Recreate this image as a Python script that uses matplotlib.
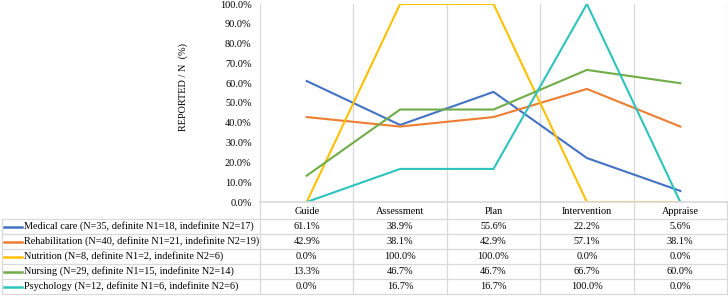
import numpy as np
import matplotlib
matplotlib.use("Agg")
import matplotlib.pyplot as plt
from matplotlib.lines import Line2D

plt.rcParams["font.family"] = ["Liberation Serif", "DejaVu Serif"]

categories = ["Guide", "Assessment", "Plan", "Intervention", "Appraise"]
series_names = [
    "Medical care (N=35, definite N1=18, indefinite N2=17)",
    "Rehabilitation (N=40, definite N1=21, indefinite N2=19)",
    "Nutrition (N=8, definite N1=2, indefinite N2=6)",
    "Nursing (N=29, definite N1=15, indefinite N2=14)",
    "Psychology (N=12, definite N1=6, indefinite N2=6)",
]
medical_care = [61.1, 38.9, 55.6, 22.2, 5.6]
rehabilitation = [42.9, 38.1, 42.9, 57.1, 38.1]
nutrition = [0.0, 100.0, 100.0, 0.0, 0.0]
nursing = [13.3, 46.7, 46.7, 66.7, 60.0]
psychology = [0.0, 16.7, 16.7, 100.0, 0.0]
series_values = [medical_care, rehabilitation, nutrition, nursing, psychology]
colors = ["#4472C4", "#ED7D31", "#FFC000", "#70AD47", "#2EC4BE"]

W, H = 728, 297
fig = plt.figure(figsize=(W / 100, H / 100), dpi=100)


def fx(px):
    return px / W


def fy(py):
    return 1 - py / H


grid_col = "#D9D9D9"
fs = 7.35

# plot area
x0, x1 = 260, 727
y_top, y_bot = 4, 202
ax = fig.add_axes([fx(x0), fy(y_bot), fx(x1) - fx(x0), fy(y_top) - fy(y_bot)])
n = len(categories)
for vals, c in zip(series_values, colors):
    ax.plot(range(n), vals, color=c, lw=1.5, solid_joinstyle="miter")
ax.set_xlim(-0.5, n - 0.5)
ax.set_ylim(0, 100)
ax.set_yticks(np.arange(0, 101, 10))
ax.set_yticklabels(["{:.1f}%".format(v) for v in np.arange(0, 101, 10)], fontsize=fs)
ax.tick_params(axis="y", length=0, pad=6)
ax.set_xticks([])
for s in ["top", "right", "left"]:
    ax.spines[s].set_visible(False)
ax.spines["bottom"].set_color(grid_col)
ax.spines["bottom"].set_linewidth(1.2)
for b in np.arange(-0.5, n, 1.0):
    ax.axvline(b, color=grid_col, lw=0.9, zorder=0)
fig.text(fx(183), fy(87), "REPORTED / N  (%)", rotation=90, fontsize=fs,
         ha="center", va="center")

# data table
col_edges = np.linspace(x0, x1, n + 1)
row_top = 219
row_h = 15
n_rows = len(series_names)
table_bot = row_top + row_h * n_rows


def hline(y, xa, xb):
    fig.add_artist(Line2D([fx(xa), fx(xb)], [fy(y), fy(y)], color=grid_col, lw=0.9))


def vline(x, ya, yb):
    fig.add_artist(Line2D([fx(x), fx(x)], [fy(ya), fy(yb)], color=grid_col, lw=0.9))


for i in range(n_rows + 1):
    hline(row_top + i * row_h, 2, x1)
for xe in col_edges:
    vline(xe, y_bot, table_bot)
vline(2, row_top, table_bot)

for j, cat in enumerate(categories):
    cx = (col_edges[j] + col_edges[j + 1]) / 2
    fig.text(fx(cx), fy(211), cat, fontsize=fs, ha="center", va="center")

for i, (name, vals, c) in enumerate(zip(series_names, series_values, colors)):
    cy = row_top + i * row_h + row_h / 2
    fig.add_artist(Line2D([fx(4), fx(22)], [fy(cy), fy(cy)], color=c, lw=1.8))
    fig.text(fx(24), fy(cy), name, fontsize=fs, ha="left", va="center")
    for j, v in enumerate(vals):
        cx = (col_edges[j] + col_edges[j + 1]) / 2
        fig.text(fx(cx), fy(cy), "{:.1f}%".format(v), fontsize=fs,
                 ha="center", va="center")

fig.savefig("out.png", dpi=100)
